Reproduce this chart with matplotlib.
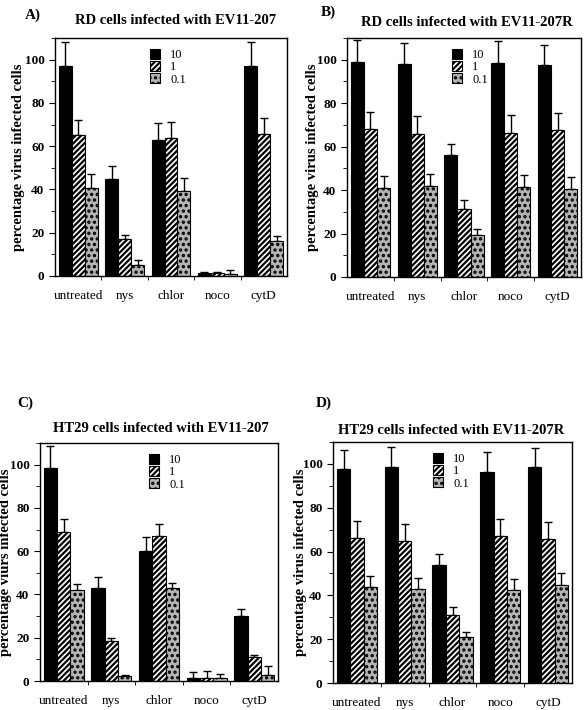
import numpy as np
import matplotlib
matplotlib.use("Agg")
import matplotlib.pyplot as plt
from matplotlib.patches import Patch
from matplotlib.ticker import MultipleLocator, FixedLocator

plt.rcParams['font.family'] = ['Liberation Serif', 'DejaVu Serif']
plt.rcParams['hatch.linewidth'] = 1.6

treatments = ["untreated", "nys", "chlor", "noco", "cytD"]
moi_labels = ["10", "1", "0.1"]

# A) RD cells, EV11-207
a_moi10 = [97, 45, 63, 1.2, 97]
a_moi10_err = [11, 6, 7.5, 0.5, 11]
a_moi1 = [65, 17, 64, 1.3, 65.5]
a_moi1_err = [7, 2, 7, 0.5, 7.5]
a_moi01 = [40.5, 5, 39.5, 0.8, 16]
a_moi01_err = [6.5, 2.5, 6, 2, 2.5]

# B) RD cells, EV11-207R
b_moi10 = [99, 98, 56, 98.6, 97.5]
b_moi10_err = [10, 9.5, 5, 10, 9.5]
b_moi1 = [68, 66, 31.5, 66.5, 67.5]
b_moi1_err = [8, 8, 4, 8, 8]
b_moi01 = [41, 42, 19.5, 41.5, 40.5]
b_moi01_err = [5.3, 5.5, 2.8, 5.5, 5.5]

# C) HT29 cells, EV11-207
c_moi10 = [98.5, 43, 60, 1.5, 30]
c_moi10_err = [10, 5, 6.5, 2.5, 3.3]
c_moi1 = [69, 18.5, 67, 1.5, 11]
c_moi1_err = [6, 1.5, 5.5, 3, 1]
c_moi01 = [42, 2.5, 43, 1.2, 3]
c_moi01_err = [2.7, 0.5, 2.5, 2, 4]

# D) HT29 cells, EV11-207R
d_moi10 = [97.7, 98.8, 54, 96.5, 98.5]
d_moi10_err = [8.7, 8.8, 4.7, 9, 8.8]
d_moi1 = [66, 65, 31, 67, 65.5]
d_moi1_err = [8, 7.7, 3.5, 8, 8]
d_moi01 = [44, 43, 21, 42.5, 44.7]
d_moi01_err = [5, 5, 2.3, 5, 5.5]

panels = [
    ("A)", "RD cells infected with EV11-207", "percentage virus infected cells",
     (a_moi10, a_moi1, a_moi01), (a_moi10_err, a_moi1_err, a_moi01_err)),
    ("B)", "RD cells infected with EV11-207R", "percentage virus infected cells",
     (b_moi10, b_moi1, b_moi01), (b_moi10_err, b_moi1_err, b_moi01_err)),
    ("C)", "HT29 cells infected with EV11-207", "percentage viurs infected cells",
     (c_moi10, c_moi1, c_moi01), (c_moi10_err, c_moi1_err, c_moi01_err)),
    ("D)", "HT29 cells infected with EV11-207R", "percentage virus infected cells",
     (d_moi10, d_moi1, d_moi01), (d_moi10_err, d_moi1_err, d_moi01_err)),
]

W, H = 588, 710
fig = plt.figure(figsize=(W / 100, H / 100), dpi=100)

# pixel boxes: left, top, right, bottom
boxes = [(55, 38, 287, 276), (347, 38, 581, 277), (40, 443, 278, 681), (333, 442, 572, 683)]
letter_pos = [(25, 15), (321, 12), (17, 403), (316, 403)]
title_pos = [(176, 20), (467, 22), (161, 428), (451, 431)]
ylabel_x = [25, 319, 12, 307]
legend_x = [0.37, 0.41, 0.42, 0.38]

styles = [
    dict(facecolor="black", hatch=None),
    dict(facecolor="white", hatch="//////"),
    dict(facecolor="#b4b4b4", hatch="..."),
]

x = np.arange(len(treatments)) + 0.5
width = 0.28

for i, (letter, title, ylabel, series, errs) in enumerate(panels):
    l, t, r, b = boxes[i]
    ax = fig.add_axes([l / W, 1 - b / H, (r - l) / W, (b - t) / H])
    for k in range(3):
        xs = x + (k - 1) * width
        ax.bar(xs, series[k], width, edgecolor="black", linewidth=0.8, zorder=2, **styles[k])
        ax.errorbar(xs, series[k], yerr=[np.zeros(len(xs)), errs[k]], fmt="none",
                    ecolor="black", elinewidth=1, capsize=3, capthick=1, zorder=1)
    ax.set_xlim(0, 5)
    ax.set_ylim(0, 110)
    ax.yaxis.set_major_locator(MultipleLocator(20))
    ax.yaxis.set_minor_locator(MultipleLocator(10))
    ax.set_xticks(x)
    ax.set_xticklabels(treatments, fontsize=9.5)
    ax.xaxis.set_minor_locator(FixedLocator([1, 2, 3, 4]))
    ax.tick_params(axis="x", which="major", length=0, pad=10)
    ax.tick_params(axis="x", which="minor", length=3, direction="out")
    ax.tick_params(axis="y", which="major", length=4, direction="out", labelsize=9.5)
    ax.tick_params(axis="y", which="minor", length=3, direction="out")
    for lab in ax.get_yticklabels():
        lab.set_fontweight("bold")
    for sp in ax.spines.values():
        sp.set_linewidth(1)
    ax.set_ylabel(ylabel, fontsize=10.5, fontweight="bold")
    ax.yaxis.set_label_coords((ylabel_x[i] - l) / (r - l), 0.5)

    handles = [Patch(edgecolor="black", linewidth=0.8, **styles[k]) for k in range(3)]
    ax.legend(handles, moi_labels, loc="upper left", bbox_to_anchor=(legend_x[i], 0.99),
              frameon=False, fontsize=9, handlelength=0.85, handleheight=0.8,
              handletextpad=0.8, labelspacing=0.0, borderpad=0.2)

    fig.text(letter_pos[i][0] / W, 1 - letter_pos[i][1] / H, letter, fontsize=11,
             fontweight="bold", ha="left", va="center")
    fig.text(title_pos[i][0] / W, 1 - title_pos[i][1] / H, title, fontsize=10.5,
             fontweight="bold", ha="center", va="center")

plt.savefig("out.png", dpi=100)
